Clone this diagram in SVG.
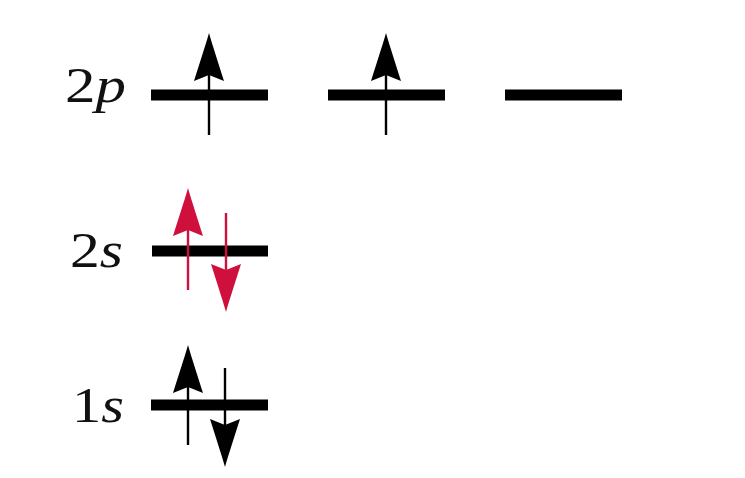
<svg xmlns="http://www.w3.org/2000/svg" width="745" height="478" viewBox="0 0 745 478">
  <style>
    .lvl { stroke: #000; stroke-width: 11; fill: none; }
    .shaft { stroke-width: 2.4; fill: none; }
    .blk { stroke: #000; fill: #000; }
    .red { stroke: #d0103c; fill: #d0103c; }
    .lbl { font-family: "Liberation Serif", "Times New Roman", serif; font-size: 50px; fill: #111; }
    .it { font-style: italic; }
  </style>
  <defs>
    <path id="headUp" d="M0,0 C4,14 10,32 15,48 L0,42 L-15,48 C-10,32 -4,14 0,0 Z" stroke="none"/>
    <path id="headDown" d="M0,0 C4,-14 10,-32 15,-48 L0,-42 L-15,-48 C-10,-32 -4,-14 0,0 Z" stroke="none"/>
  </defs>
  <rect width="745" height="478" fill="#fff"/>

  <g id="labels">
    <text class="lbl" x="65" y="102" textLength="61" lengthAdjust="spacingAndGlyphs">2<tspan class="it">p</tspan></text>
    <text class="lbl" x="70" y="267" textLength="53" lengthAdjust="spacingAndGlyphs">2<tspan class="it">s</tspan></text>
    <text class="lbl" x="72" y="422" textLength="52" lengthAdjust="spacingAndGlyphs">1<tspan class="it">s</tspan></text>
  </g>

  <g id="orbital-2p-1">
    <line class="lvl" x1="151" y1="95" x2="268" y2="95"/>
    <g class="blk">
      <line class="shaft" x1="209" y1="135" x2="209" y2="70"/>
      <use href="#headUp" x="209" y="33"/>
    </g>
  </g>
  <g id="orbital-2p-2">
    <line class="lvl" x1="328" y1="95" x2="445" y2="95"/>
    <g class="blk">
      <line class="shaft" x1="386" y1="135" x2="386" y2="70"/>
      <use href="#headUp" x="386" y="33"/>
    </g>
  </g>
  <g id="orbital-2p-3">
    <line class="lvl" x1="505" y1="95" x2="622" y2="95"/>
  </g>

  <g id="orbital-2s">
    <line class="lvl" x1="152" y1="251" x2="268" y2="251"/>
    <g class="red">
      <line class="shaft" x1="188" y1="290" x2="188" y2="225"/>
      <use href="#headUp" x="188" y="188"/>
      <line class="shaft" x1="226" y1="213" x2="226" y2="278"/>
      <use href="#headDown" x="226" y="312"/>
    </g>
  </g>

  <g id="orbital-1s">
    <line class="lvl" x1="151" y1="405" x2="268" y2="405"/>
    <g class="blk">
      <line class="shaft" x1="188" y1="445" x2="188" y2="382"/>
      <use href="#headUp" x="188" y="345"/>
      <line class="shaft" x1="225" y1="368" x2="225" y2="432"/>
      <use href="#headDown" x="225" y="467"/>
    </g>
  </g>
</svg>
